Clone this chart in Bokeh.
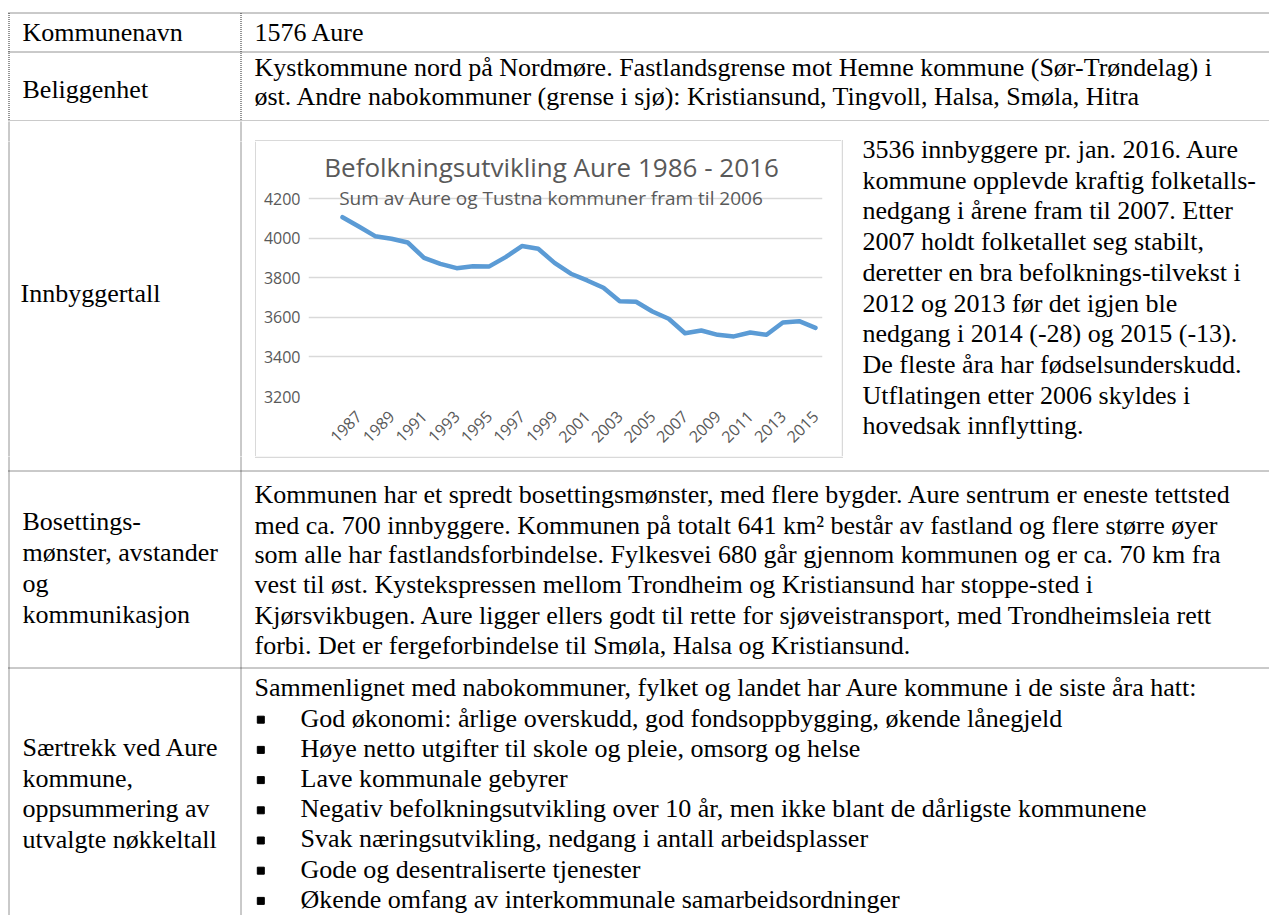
import math
from bokeh.plotting import figure
from bokeh.layouts import column, row
from bokeh.models import Range1d, FixedTicker, Label, ColumnDataSource
from bokeh.embed import file_html
from bokeh.resources import INLINE
from bokeh.core.properties import value

# ---------------- data ----------------
years = list(range(1986, 2016))
population = [4107, 4060, 4011, 3998, 3979, 3901, 3871, 3849, 3859, 3858,
              3905, 3961, 3947, 3876, 3821, 3787, 3750, 3682, 3679, 3630,
              3593, 3520, 3534, 3512, 3504, 3524, 3512, 3574, 3581, 3547]
y_ticks = [3200, 3400, 3600, 3800, 4000, 4200]
x_ticks = list(range(1987, 2016, 2))
chart_title = "Befolkningsutvikling Aure 1986 - 2016"
chart_subtitle = "Sum av Aure og Tustna kommuner fram til 2006"

row1_label = ["Kommunenavn"]
row1_text = ["1576 Aure"]
row2_label = ["Beliggenhet"]
row2_text = ["Kystkommune nord på Nordmøre. Fastlandsgrense mot Hemne kommune (Sør-Trøndelag) i",
             "øst. Andre nabokommuner (grense i sjø): Kristiansund, Tingvoll, Halsa, Smøla, Hitra"]
row3_label = ["Innbyggertall"]
row3_text = ["3536 innbyggere pr. jan. 2016. Aure",
             "kommune opplevde kraftig folketalls-",
             "nedgang i årene fram til 2007. Etter",
             "2007 holdt folketallet seg stabilt,",
             "deretter en bra befolknings-tilvekst i",
             "2012 og 2013 før det igjen ble",
             "nedgang i 2014 (-28) og 2015 (-13).",
             "De fleste åra har fødselsunderskudd.",
             "Utflatingen etter 2006 skyldes i",
             "hovedsak innflytting."]
row4_label = ["Bosettings-", "mønster, avstander", "og", "kommunikasjon"]
row4_text = ["Kommunen har et spredt bosettingsmønster, med flere bygder. Aure sentrum er eneste tettsted",
             "med ca. 700 innbyggere. Kommunen på totalt 641 km² består av fastland og flere større øyer",
             "som alle har fastlandsforbindelse. Fylkesvei 680 går gjennom kommunen og er ca. 70 km fra",
             "vest til øst. Kystekspressen mellom Trondheim og Kristiansund har stoppe-sted i",
             "Kjørsvikbugen. Aure ligger ellers godt til rette for sjøveistransport, med Trondheimsleia rett",
             "forbi. Det er fergeforbindelse til Smøla, Halsa og Kristiansund."]
row5_label = ["Særtrekk ved Aure", "kommune,", "oppsummering av", "utvalgte nøkkeltall"]
row5_intro = ["Sammenlignet med nabokommuner, fylket og landet har Aure kommune i de siste åra hatt:"]
row5_bullets = ["God økonomi: årlige overskudd, god fondsoppbygging, økende lånegjeld",
                "Høye netto utgifter til skole og pleie, omsorg og helse",
                "Lave kommunale gebyrer",
                "Negativ befolkningsutvikling over 10 år, men ikke blant de dårligste kommunene",
                "Svak næringsutvikling, nedgang i antall arbeidsplasser",
                "Gode og desentraliserte tjenester",
                "Økende omfang av interkommunale samarbeidsordninger"]

# ---------------- styles / layout ----------------
SERIF = "Liberation Serif"
FS = "26px"
TEXT_SHIFT = -8        # renderer places alphabetic baseline ~8px low
DOT = "#2a2a2a"
BOX = "#d9d9d9"
PAGE_L, PAGE_R = 0, 1269
ROW2_END = 121         # bottom of rows 1-2 strip
TOP1 = 141             # top of chart box
MID1 = 456
BOT1 = 915
CH_L, CH_R = 256, 841
COL_X = 240.5
LEFT_X = 22
RIGHT_X = 254

def table_fig(x0, x1, y0, y1):
    p = figure(width=x1 - x0, height=y1 - y0,
               x_range=Range1d(x0, x1), y_range=Range1d(y1, y0),
               x_axis_location=None, y_axis_location=None,
               toolbar_location=None, output_backend="svg",
               min_border=0, outline_line_color=None)
    p.grid.visible = False
    p.background_fill_color = "white"
    p.border_fill_color = "white"
    p.frame_align = False
    return p

def put_text(p, xs, ys, texts, size=FS):
    src = ColumnDataSource(dict(x=xs, y=[v + TEXT_SHIFT for v in ys], t=texts))
    p.text(x="x", y="y", text="t", source=src, text_font=value(SERIF),
           text_font_size=size, text_baseline="alphabetic", text_align="left",
           text_color="black")

def dotted(p, x0, y0, x1, y1):
    p.segment(x0=x0, y0=y0, x1=x1, y1=y1, line_color=DOT, line_width=1,
              line_dash="1 1")

# ---- top figure: rows 1 and 2 ----
top = table_fig(PAGE_L, PAGE_R, 0, ROW2_END)
dotted(top, [8, 8, 8], [12.5, 51.5, 120.5], [PAGE_R] * 3, [12.5, 51.5, 120.5])
dotted(top, [8.5, COL_X], [12.5, 12.5], [8.5, COL_X], [ROW2_END, ROW2_END])
put_text(top, [LEFT_X], [40], row1_label)
put_text(top, [RIGHT_X], [40], row1_text)
put_text(top, [LEFT_X], [96.5], row2_label)
put_text(top, [RIGHT_X] * 2, [75 + 28.5 * i for i in range(2)], row2_text)

# ---- strip above the chart box ----
strip = table_fig(PAGE_L, CH_R, ROW2_END, TOP1)
dotted(strip, [8.5, COL_X], [ROW2_END, ROW2_END], [8.5, COL_X], [TOP1, TOP1])
strip.segment(x0=[CH_L - 1.5], y0=[TOP1 - 0.75], x1=[CH_R], y1=[TOP1 - 0.75],
              line_color=BOX, line_width=1.5)

# ---- middle row: label, chart, description ----
mid_left = table_fig(PAGE_L, CH_L, TOP1, MID1)
dotted(mid_left, [8.5, COL_X], [TOP1, TOP1], [8.5, COL_X], [MID1, MID1])
mid_left.segment(x0=[CH_L - 0.75], y0=[TOP1], x1=[CH_L - 0.75], y1=[MID1],
                 line_color=BOX, line_width=1.5)
put_text(mid_left, [20], [301], row3_label)

mid_right = table_fig(CH_R, PAGE_R, ROW2_END, MID1)
mid_right.segment(x0=[CH_R + 0.75], y0=[TOP1 - 1.5], x1=[CH_R + 0.75], y1=[MID1],
                  line_color=BOX, line_width=1.5)
put_text(mid_right, [862] * len(row3_text), [157 + 30.7 * i for i in range(len(row3_text))], row3_text)

# chart (frame spans from the top of the chart box down to the 3200 gridline)
FR_L, FR_R = 308, 822          # frame, page px
FR_TOP, FR_BOT = TOP1, 396
GRID_TOP = 198.3               # page px of the top gridline
X_START, X_END = 1983.915, 2015.43
y_per_px = (y_ticks[-1] - y_ticks[0]) / (FR_BOT - GRID_TOP)
Y_END = y_ticks[0] + (FR_BOT - FR_TOP) * y_per_px
chart = figure(width=CH_R - CH_L, height=MID1 - TOP1, title=None,
               x_range=Range1d(X_START, X_END), y_range=Range1d(y_ticks[0], Y_END),
               toolbar_location=None, output_backend="svg",
               min_border_left=FR_L - CH_L, min_border_right=CH_R - FR_R,
               min_border_top=FR_TOP - TOP1, min_border_bottom=MID1 - FR_BOT,
               outline_line_color=None)
chart.frame_align = False
chart.background_fill_color = "white"
chart.border_fill_color = "white"
chart.xgrid.visible = False
chart.ygrid.grid_line_color = BOX
chart.ygrid.grid_line_width = 1.5
chart.yaxis.ticker = FixedTicker(ticks=y_ticks)
chart.xaxis.ticker = FixedTicker(ticks=x_ticks)
chart.xaxis.major_label_orientation = math.pi / 4
for ax in (chart.xaxis, chart.yaxis):
    ax.axis_line_color = None
    ax.major_tick_line_color = None
    ax.minor_tick_line_color = None
    ax.major_tick_in = 0
    ax.major_tick_out = 0
    ax.major_label_text_font = "Open Sans"
    ax.major_label_text_font_size = "16px"
    ax.major_label_text_color = "#595959"
chart.yaxis.major_label_standoff = 8
chart.xaxis.major_label_standoff = 17

chart.line(years, population, line_color="#5B9BD5", line_width=4.5,
           line_join="round", line_cap="round")

x_per_px = (X_END - X_START) / (FR_R - FR_L)

def page_to_data_y(py):
    return y_ticks[0] + (FR_BOT - py) * y_per_px

chart.add_layout(Label(x=X_START + (551 - FR_L) * x_per_px,
                       y=page_to_data_y(174.5 + TEXT_SHIFT), text=chart_title,
                       text_align="center", text_baseline="alphabetic",
                       text_font="Open Sans", text_font_size="26px", text_color="#595959"))
chart.add_layout(Label(x=X_START + (550.5 - FR_L) * x_per_px,
                       y=page_to_data_y(205.7 + TEXT_SHIFT), text=chart_subtitle,
                       text_align="center", text_baseline="alphabetic",
                       text_font="Open Sans", text_font_size="19px", text_color="#595959"))

# ---- bottom figure: rows 4 and 5 ----
bot = table_fig(PAGE_L, PAGE_R, MID1, BOT1)
dotted(bot, [8, 8], [470.5, 667.5], [PAGE_R, PAGE_R], [470.5, 667.5])
dotted(bot, [8.5, COL_X], [MID1, MID1], [8.5, COL_X], [BOT1, BOT1])
bot.segment(x0=[CH_L - 1.5], y0=[MID1 + 0.75], x1=[CH_R + 1.5], y1=[MID1 + 0.75],
            line_color=BOX, line_width=1.5)
put_text(bot, [LEFT_X] * 4, [529 + 31 * i for i in range(4)], row4_label)
r4_y = [501.7, 532.5, 562, 592, 622.5, 652.5]
put_text(bot, [RIGHT_X] * len(row4_text), r4_y, row4_text)
put_text(bot, [LEFT_X] * 4, [755 + 30.6 * i for i in range(4)], row5_label)
put_text(bot, [RIGHT_X], [695], row5_intro)
b_y = [725.5 + 30.2 * i for i in range(len(row5_bullets))]
put_text(bot, [300] * len(row5_bullets), b_y, row5_bullets)
bot.scatter(x=[260.3] * len(row5_bullets), y=[v - 6.3 for v in b_y], marker="square",
            size=7, fill_color="black", line_color="black")

middle = row(column(strip, row(mid_left, chart)), mid_right)
layout = column(top, middle, bot)
open("out.html", "w").write(file_html(layout, INLINE))
